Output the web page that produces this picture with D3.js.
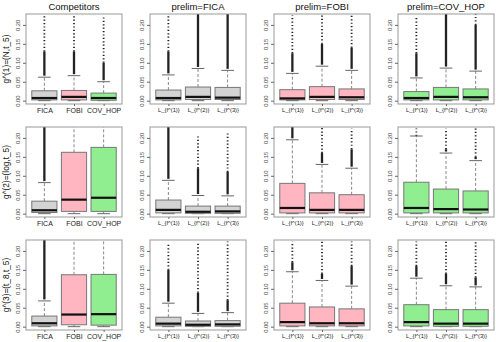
<!DOCTYPE html>
<html><head><meta charset="utf-8">
<script src="https://cdn.jsdelivr.net/npm/d3@7"></script>
<style>
body{margin:0;background:#fff}
svg{display:block}
text{font-family:"Liberation Sans",Arial,sans-serif}
</style></head>
<body><svg id="c" width="496" height="342"></svg>
<script>
// ---------------- data ----------------
const columnTitles = ["Competitors", "prelim=FICA", "prelim=FOBI", "prelim=COV_HOP"];
const rowLabels = ["g^(1)=(N,t_5)", "g^(2)=(log,t_5)", "g^(3)=(t_8,t_5)"];
const groupLabels = [
  ["FICA", "FOBI", "COV_HOP"],
  ["L_{f^(1)}", "L_{f^(2)}", "L_{f^(3)}"],
  ["L_{f^(1)}", "L_{f^(2)}", "L_{f^(3)}"],
  ["L_{f^(1)}", "L_{f^(2)}", "L_{f^(3)}"]
];
const yTicks = [0, 0.05, 0.10, 0.15, 0.20];
const yTickLabels = ["0.00", "0.05", "0.10", "0.15", "0.20"];
const yLimits = [0, 0.22];

// statistics indexed [row][column][group]
const lowerWhisker = [
  [[0,0,0],[0,0,0],[0,0,0],[0,0,0]],
  [[0,0,0],[0,0,0],[0,0,0],[0,0,0]],
  [[0,0,0],[0,0,0],[0,0,0],[0,0,0]]
];
const q1 = [
  [[0.002,0.002,0.001],[0.002,0.003,0.003],[0.002,0.003,0.003],[0.002,0.002,0.002]],
  [[0.003,0.006,0.006],[0.002,0.001,0.001],[0.002,0.002,0.002],[0.002,0.002,0.002]],
  [[0.002,0.005,0.004],[0.002,0.001,0.001],[0.002,0.002,0.002],[0.002,0.001,0.001]]
];
const median = [
  [[0.007,0.010,0.007],[0.007,0.010,0.008],[0.006,0.010,0.009],[0.007,0.010,0.009]],
  [[0.009,0.037,0.042],[0.010,0.005,0.006],[0.015,0.010,0.010],[0.015,0.012,0.011]],
  [[0.009,0.032,0.033],[0.008,0.005,0.006],[0.012,0.009,0.009],[0.012,0.008,0.008]]
];
const q3 = [
  [[0.026,0.027,0.020],[0.028,0.036,0.035],[0.029,0.037,0.031],[0.024,0.035,0.031]],
  [[0.033,0.162,0.175],[0.036,0.020,0.020],[0.080,0.055,0.050],[0.083,0.065,0.060]],
  [[0.028,0.137,0.138],[0.025,0.015,0.016],[0.062,0.052,0.047],[0.058,0.045,0.045]]
];
const upperWhisker = [
  [[0.062,0.066,0.050],[0.068,0.085,0.080],[0.072,0.091,0.080],[0.060,0.086,0.078]],
  [[0.082,0.300,0.300],[0.088,0.048,0.047],[0.195,0.130,0.120],[0.205,0.160,0.140]],
  [[0.068,0.300,0.300],[0.062,0.035,0.037],[0.145,0.122,0.107],[0.128,0.108,0.105]]
];
// outliers: dense run from whisker up to denseTop, then scattered points up to sparseTop
const outlierDenseTop = [
  [[0.130,0.130,0.100],[0.130,0.230,0.230],[0.125,0.150,0.140],[0.125,0.230,0.200]],
  [[0.230,0.300,0.300],[0.230,0.120,0.110],[0.230,0.160,0.170],[0.205,0.170,0.150]],
  [[0.230,0.300,0.300],[0.150,0.090,0.070],[0.170,0.140,0.160],[0.160,0.140,0.130]]
];
const outlierSparseTop = [
  [[0.225,0.225,0.220],[0.225,0.230,0.230],[0.225,0.225,0.225],[0.220,0.230,0.230]],
  [[0.230,0.300,0.300],[0.230,0.205,0.215],[0.230,0.230,0.225],[0.225,0.225,0.230]],
  [[0.230,0.300,0.300],[0.220,0.220,0.225],[0.225,0.225,0.225],[0.225,0.230,0.230]]
];

// ---------------- styles ----------------
const competitorFills = ["#D3D3D3", "#FFB6C1", "#90EE90"];
const prelimFills = ["#D3D3D3", "#FFB6C1", "#90EE90"];
const panelW = 124, panelH = 113;
const M = {left: 26, right: 2, top: 14, bottom: 9};

const svg = d3.select("#c");
const defs = svg.append("defs");

for (let r = 0; r < 3; r++) {
  for (let c = 0; c < 4; c++) {
    const x0 = c * panelW, y0 = r * panelH;
    const left = x0 + M.left, right = x0 + panelW - M.right;
    const top = y0 + M.top, bottom = top + 90;
    const ext = (yLimits[1] - yLimits[0]) * 0.04;
    const y = d3.scaleLinear().domain([yLimits[0] - ext, yLimits[1] + ext]).range([bottom, top]);
    const x = d3.scaleLinear().domain([0.38, 3.62]).range([left, right]);
    const id = `clip${r}${c}`;
    defs.append("clipPath").attr("id", id).append("rect")
      .attr("x", left).attr("y", top).attr("width", right - left).attr("height", bottom - top);
    const g = svg.append("g");
    const plot = g.append("g").attr("clip-path", `url(#${id})`);
    const bw = 0.85;

    for (let k = 0; k < 3; k++) {
      const cx = x(k + 1);
      const fill = c === 0 ? competitorFills[k] : prelimFills[c - 1];
      const lw = lowerWhisker[r][c][k], a = q1[r][c][k], m = median[r][c][k],
            b = q3[r][c][k], uw = upperWhisker[r][c][k];
      const dTop = outlierDenseTop[r][c][k], sTop = outlierSparseTop[r][c][k];
      const half = (x(1 + bw / 2) - x(1));
      const capHalf = half / 2;
      // outliers: scattered part
      if (sTop > dTop) {
        plot.append("line").attr("x1", cx).attr("x2", cx)
          .attr("y1", y(dTop)).attr("y2", y(sTop))
          .attr("stroke", "#222").attr("stroke-width", 1.8)
          .attr("stroke-dasharray", "1.2,2.2");
      }
      // dense part
      if (dTop > uw) {
        plot.append("line").attr("x1", cx).attr("x2", cx)
          .attr("y1", y(uw) - 1.5).attr("y2", y(dTop))
          .attr("stroke", "#222").attr("stroke-width", 2.3);
      }
      // whiskers (dashed)
      plot.append("line").attr("x1", cx).attr("x2", cx).attr("y1", y(b)).attr("y2", y(uw))
        .attr("stroke", "#888").attr("stroke-width", 1).attr("stroke-dasharray", "3,2");
      plot.append("line").attr("x1", cx).attr("x2", cx).attr("y1", y(a)).attr("y2", y(lw))
        .attr("stroke", "#888").attr("stroke-width", 1).attr("stroke-dasharray", "3,2");
      // caps
      plot.append("line").attr("x1", cx - capHalf).attr("x2", cx + capHalf)
        .attr("y1", y(uw)).attr("y2", y(uw)).attr("stroke", "#666").attr("stroke-width", 1);
      plot.append("line").attr("x1", cx - capHalf).attr("x2", cx + capHalf)
        .attr("y1", y(lw)).attr("y2", y(lw)).attr("stroke", "#666").attr("stroke-width", 1);
      // box
      plot.append("rect").attr("x", cx - half).attr("width", 2 * half)
        .attr("y", y(b)).attr("height", y(a) - y(b))
        .attr("fill", fill).attr("stroke", "#777").attr("stroke-width", 1);
      // median
      plot.append("line").attr("x1", cx - half).attr("x2", cx + half)
        .attr("y1", y(m)).attr("y2", y(m)).attr("stroke", "#111").attr("stroke-width", 2.2);
    }

    // plot frame
    g.append("rect").attr("x", left).attr("y", top).attr("width", right - left).attr("height", bottom - top)
      .attr("fill", "none").attr("stroke", "#999").attr("stroke-width", 1);

    // y axis
    const ya = d3.axisLeft(y).tickValues(yTicks).tickSize(3).tickPadding(2)
      .tickFormat((d, i) => yTickLabels[i]);
    const yg = g.append("g").attr("transform", `translate(${left},0)`).call(ya);
    yg.select(".domain").remove();
    yg.selectAll(".tick line").attr("stroke", "#666");
    yg.selectAll(".tick text").attr("font-size", 5.8).attr("fill", "#444")
      .attr("transform", "rotate(-90)").attr("x", 0).attr("y", -6.5)
      .attr("text-anchor", "middle").attr("dy", 0);

    // x axis
    const xa = d3.axisBottom(x).tickValues([1, 2, 3]).tickSize(2).tickPadding(2)
      .tickFormat((d, i) => groupLabels[c][i]);
    const xg = g.append("g").attr("transform", `translate(0,${bottom})`).call(xa);
    xg.select(".domain").remove();
    xg.selectAll(".tick line").attr("stroke", "#666");
    xg.selectAll(".tick text").attr("font-size", c === 0 ? 7 : 5.8).attr("fill", "#222");

    // titles
    if (r === 0) {
      svg.append("text").attr("x", (left + right) / 2).attr("y", 10)
        .attr("text-anchor", "middle").attr("font-size", 9.5).attr("fill", "#111")
        .text(columnTitles[c]);
    }
    if (c === 0) {
      svg.append("text").attr("transform", `translate(9,${(top + bottom) / 2}) rotate(-90)`)
        .attr("text-anchor", "middle").attr("font-size", 8.3).attr("fill", "#111")
        .text(rowLabels[r]);
    }
  }
}
</script></body></html>
